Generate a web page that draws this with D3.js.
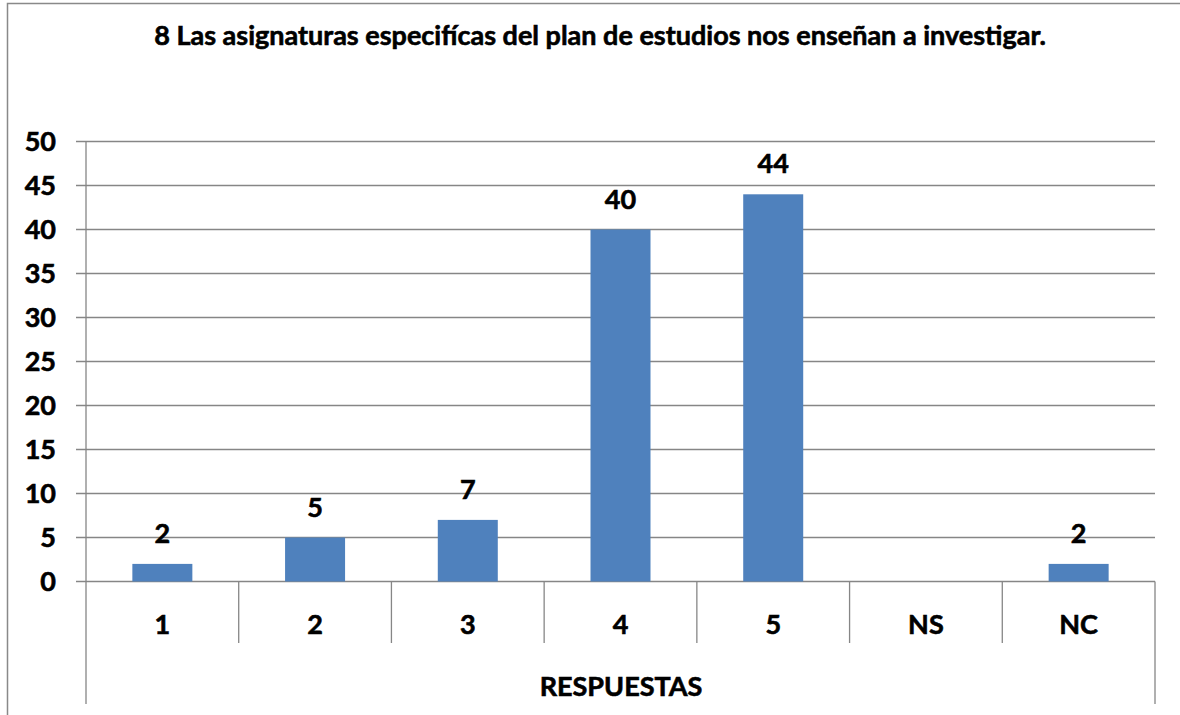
<!DOCTYPE html>
<html><head><meta charset="utf-8">
<script src="https://cdn.jsdelivr.net/npm/d3@7"></script>
<style>body{margin:0;background:#fff}svg{display:block}text{font-family:Lato,'Open Sans',sans-serif;font-weight:bold;fill:#000;stroke:#000;stroke-width:0.6px}</style>
</head><body>
<script>
const title = "8 Las asignaturas especifícas del plan de estudios nos enseñan a investigar.";
const categories = ["1","2","3","4","5","NS","NC"];
const values = [2,5,7,40,44,null,2];
const yTicks = [0,5,10,15,20,25,30,35,40,45,50];
const axisTitle = "RESPUESTAS";

const W=1180,H=715;
const svg=d3.select("body").append("svg").attr("width",W).attr("height",H);
const gray="#898989";
// outer frame
svg.append("path").attr("d","M7.5,715 V3.5 H1180").attr("fill","none").attr("stroke",gray).attr("stroke-width",1.5);

const x=d3.scaleBand().domain(categories).range([86,1155]).padding(0);
const y=d3.scaleLinear().domain([0,50]).range([581.5,141.5]);

// title
svg.append("text").attr("x",600).attr("y",45).attr("text-anchor","middle").style("font-size","27px").text(title);

// gridlines
svg.append("g").selectAll("line").data(yTicks).join("line")
 .attr("x1",76).attr("x2",1155).attr("y1",d=>y(d)).attr("y2",d=>y(d))
 .attr("stroke","#868686").attr("stroke-width",1.3);
// y labels
svg.append("g").selectAll("text").data(yTicks).join("text")
 .attr("x",56).attr("y",d=>y(d)+9.5).attr("text-anchor","end").style("font-size","27px").text(d=>d);
// y axis line
svg.append("line").attr("x1",86).attr("x2",86).attr("y1",y(50)).attr("y2",704).attr("stroke","#868686").attr("stroke-width",1.3);
// category separators
const bounds=categories.map(c=>x(c)).concat([x.range()[1]]);
svg.append("g").selectAll("line").data(bounds.slice(1)).join("line")
 .attr("x1",d=>d).attr("x2",d=>d).attr("y1",y(0)).attr("y2",(d,i)=>i===bounds.length-2?704:643)
 .attr("stroke","#868686").attr("stroke-width",1.3);

// bars
const bw=60;
const data=categories.map((c,i)=>({c,v:values[i]})).filter(d=>d.v!=null);
svg.append("g").selectAll("rect").data(data).join("rect")
 .attr("x",d=>x(d.c)+x.bandwidth()/2-bw/2).attr("width",bw)
 .attr("y",d=>y(d.v)).attr("height",d=>y(0)-y(d.v)).attr("fill","#4F81BD");
// value labels
svg.append("g").selectAll("text").data(data).join("text")
 .attr("x",d=>x(d.c)+x.bandwidth()/2).attr("y",d=>y(d.v)-21).attr("text-anchor","middle")
 .style("font-size","27px").text(d=>d.v);
// category labels
svg.append("g").selectAll("text").data(categories).join("text")
 .attr("x",d=>x(d)+x.bandwidth()/2).attr("y",634).attr("text-anchor","middle").style("font-size","27px").text(d=>d);
svg.append("text").attr("x",621).attr("y",696).attr("text-anchor","middle").style("font-size","27px").text(axisTitle);
</script>
</body></html>
